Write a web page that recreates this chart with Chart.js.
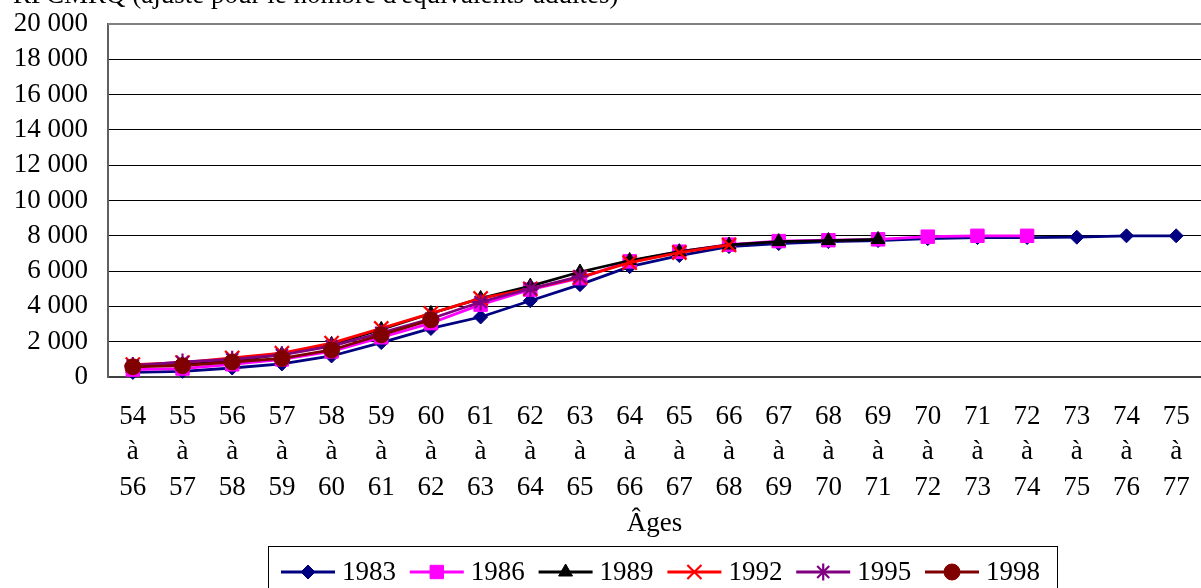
<!DOCTYPE html>
<html lang="fr">
<head>
<meta charset="utf-8">
<title>RFCMRQ selon l'âge</title>
<script src="https://cdn.jsdelivr.net/npm/chart.js@4/dist/chart.umd.min.js"></script>
<style>
  html, body { margin: 0; padding: 0; background: #ffffff; }
  #wrap { width: 1201px; height: 588px; position: relative; overflow: hidden; }
  canvas { display: block; }
</style>
</head>
<body>
<div id="wrap"><canvas id="chart" width="1201" height="588"></canvas></div>
<script>
// Age groups (start of each three-year band)
const ageStarts = [54, 55, 56, 57, 58, 59, 60, 61, 62, 63, 64, 65, 66, 67, 68, 69, 70, 71, 72, 73, 74, 75];
const ageLabels = ageStarts.map(a => [String(a), 'à', String(a + 2)]);

const years = ['1983', '1986', '1989', '1992', '1995', '1998'];

// RFCMRQ adjusted for adult-equivalents, by cohort
const serie1983 = [260, 320, 510, 740, 1190, 1950, 2750, 3400, 4320, 5230, 6250, 6880, 7390, 7560, 7670, 7730, 7840, 7900, 7900, 7920, 8000, 8000];
const serie1986 = [420, 480, 720, 1000, 1450, 2250, 3050, 4100, 4950, 5600, 6550, 7100, 7500, 7700, 7750, 7800, 7950, 8000, 8000];
const serie1989 = [600, 720, 920, 1280, 1850, 2700, 3600, 4450, 5150, 5950, 6600, 7100, 7480, 7670, 7730, 7790];
const serie1992 = [700, 820, 1080, 1350, 1920, 2750, 3600, 4450, 5000, 5650, 6480, 7050, 7480];
const serie1995 = [650, 850, 1000, 1250, 1750, 2500, 3300, 4250, 5000, 5700];
const serie1998 = [580, 640, 850, 1050, 1530, 2390, 3240];

const yTicksMax = 20000;
const yTicksStep = 2000;

const FONT = "'Liberation Serif', 'Times New Roman', serif";
const FONT_SIZE = 27;

const styles = [
  { color: '#000080', pointStyle: 'rectRot',  radius: 7,   bw: 1 },
  { color: '#FF00FF', pointStyle: 'rect',     radius: 9.5, bw: 1 },
  { color: '#000000', pointStyle: 'triangle', radius: 8,   bw: 1 },
  { color: '#FF0000', pointStyle: 'crossRot', radius: 10,  bw: 2.2 },
  { color: '#800080', pointStyle: 'star',     radius: 8.5, bw: 2.2 },
  { color: '#800000', pointStyle: 'circle',   radius: 8,   bw: 1 }
];
const seriesValues = [serie1983, serie1986, serie1989, serie1992, serie1995, serie1998];

const datasets = years.map((y, i) => ({
  label: y,
  data: seriesValues[i],
  borderColor: styles[i].color,
  backgroundColor: styles[i].color,
  borderWidth: 2.8,
  pointStyle: styles[i].pointStyle,
  pointRadius: styles[i].radius,
  pointHoverRadius: styles[i].radius,
  pointBackgroundColor: styles[i].color,
  pointBorderColor: styles[i].color,
  pointBorderWidth: styles[i].bw,
  tension: 0,
  fill: false,
  clip: false,
  order: years.length - i
}));

function formatThousands(v) {
  return String(v).replace(/\B(?=(\d{3})+(?!\d))/g, ' ');
}

// Frame, cropped heading and boxed legend
const decorations = {
  id: 'decorations',
  beforeDatasetsDraw(chart) {
    const { ctx, chartArea } = chart;
    ctx.save();
    ctx.strokeStyle = '#808080';
    ctx.lineWidth = 2;
    ctx.beginPath();
    ctx.moveTo(chartArea.left, chartArea.top);
    ctx.lineTo(chartArea.right, chartArea.top);
    ctx.stroke();
    ctx.restore();
  },
  afterDraw(chart) {
    const { ctx } = chart;
    ctx.save();
    // heading above the plot
    ctx.fillStyle = '#000';
    ctx.font = FONT_SIZE + 'px ' + FONT;
    ctx.textAlign = 'left';
    ctx.textBaseline = 'alphabetic';
    ctx.fillText("RFCMRQ (ajusté pour le nombre d'équivalents-adultes)", 13, 3);

    // legend box
    ctx.strokeStyle = '#000';
    ctx.lineWidth = 1;
    ctx.strokeRect(268.5, 546.5, 789, 60);

    const cy = 572;
    const x0 = 281, stride = 128.8, lineLen = 54;
    chart.data.datasets.forEach((ds, i) => {
      const lx = x0 + i * stride;
      ctx.strokeStyle = ds.borderColor;
      ctx.lineWidth = 2.8;
      ctx.beginPath();
      ctx.moveTo(lx, cy);
      ctx.lineTo(lx + lineLen, cy);
      ctx.stroke();
      ctx.fillStyle = ds.pointBackgroundColor;
      ctx.strokeStyle = ds.pointBorderColor;
      ctx.lineWidth = ds.pointBorderWidth;
      Chart.helpers.drawPoint(ctx, {
        pointStyle: ds.pointStyle,
        radius: ds.pointRadius,
        borderWidth: ds.pointBorderWidth,
        rotation: 0
      }, lx + lineLen / 2, cy);
      ctx.fillStyle = '#000';
      ctx.font = FONT_SIZE + 'px ' + FONT;
      ctx.textAlign = 'left';
      ctx.textBaseline = 'middle';
      ctx.fillText(ds.label, lx + lineLen + 7, cy + 1);
    });
    ctx.restore();
  }
};

new Chart(document.getElementById('chart'), {
  type: 'line',
  data: { labels: ageLabels, datasets },
  plugins: [decorations],
  options: {
    responsive: false,
    animation: false,
    devicePixelRatio: 1,
    layout: { autoPadding: false, padding: { top: 24, left: 0, right: 0, bottom: 42 } },
    plugins: {
      legend: { display: false },
      title: { display: false },
      tooltip: { enabled: false }
    },
    scales: {
      x: {
        type: 'category',
        offset: true,
        grid: { display: false, drawTicks: false },
        border: { display: true, color: '#404040', width: 2 },
        ticks: {
          color: '#000',
          font: { family: FONT, size: FONT_SIZE, lineHeight: 35.5 / FONT_SIZE },
          padding: 22,
          maxRotation: 0,
          autoSkip: false
        },
        title: {
          display: true,
          text: 'Âges',
          color: '#000',
          font: { family: FONT, size: FONT_SIZE, lineHeight: 1.2 },
          padding: { top: 0, bottom: 6 }
        },
        afterFit(scale) {
          scale.height = 169;
          scale.paddingLeft = 0;
          scale.paddingRight = 0;
        }
      },
      y: {
        min: 0,
        max: yTicksMax,
        grid: { color: '#000', lineWidth: 1, drawTicks: false },
        border: { display: true, color: '#606060', width: 2 },
        ticks: {
          stepSize: yTicksStep,
          autoSkip: false,
          color: '#000',
          font: { family: FONT, size: FONT_SIZE },
          padding: 20,
          callback: v => formatThousands(v)
        },
        afterFit(scale) {
          scale.width = 108;
          scale.paddingTop = 0;
          scale.paddingBottom = 0;
        }
      }
    }
  }
});
</script>
</body>
</html>
